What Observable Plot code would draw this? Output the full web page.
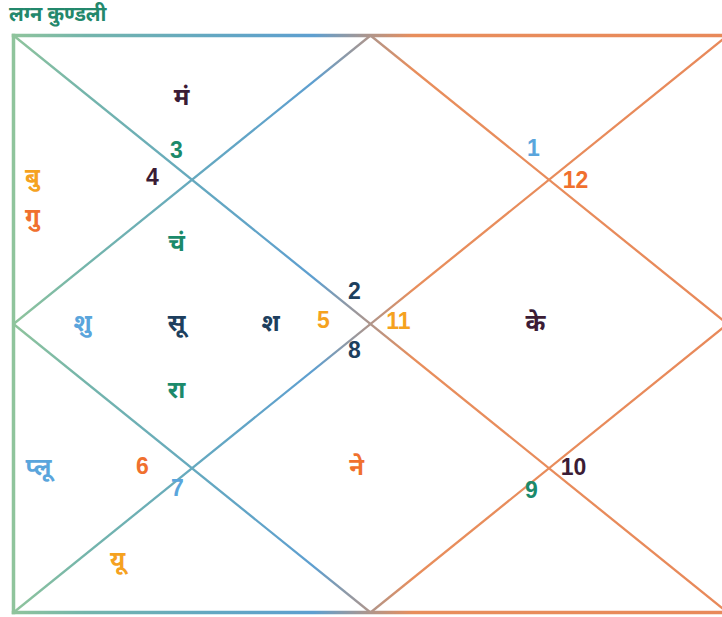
<!DOCTYPE html>
<html><head><meta charset="utf-8">
<script src="https://cdn.jsdelivr.net/npm/d3@7"></script>
<script src="https://cdn.jsdelivr.net/npm/@observablehq/plot@0.6"></script>
<style>
html,body{margin:0;padding:0;background:#fff;overflow:hidden;}
#title{font-family:"Noto Sans","DejaVu Sans",sans-serif;font-weight:bold;font-size:20px;color:#23886c;height:28px;line-height:28px;padding-left:9px;}
#chart svg{overflow:hidden;}
</style></head><body>
<div id="title">लग्न कुण्डली</div>
<div id="chart"></div>
<script>
// ---- data ----
const houses = [1,2,3,4,5,6,7,8,9,10,11,12];
const houseSigns = [2,3,4,5,6,7,8,9,10,11,12,1];
const planets = ["सू","चं","मं","बु","गु","शु","श","रा","के","यू","ने","प्लू"];
const planetHouses = [4,4,2,3,3,4,4,4,10,6,7,5];

// ---- styles / layout ----
const palette = ["#5aa5dc","#1d3f5e","#1b8a6b","#3b1c35","#f5a21f","#f0702e"];
const W = 714, H = 577;
const signPos = {1:[341,256],2:[163,115],3:[139,142],4:[310,285],5:[129,431],6:[164,453],
  7:[341,315],8:[518,455],9:[560,432],10:[385,286],11:[562,145],12:[520,113]};
const slots = {
  1:[[179,140],[179,60],[179,210]],
  2:[[168,62],[168,30],[240,62]],
  3:[[19,142],[19,182],[19,222]],
  4:[[163,288],[163,208],[69,288],[257,288],[163,355]],
  5:[[25,432],[25,472]],
  6:[[104,525],[180,525]],
  7:[[343,432]],
  8:[[522,525]],
  9:[[660,432]],
  10:[[522,288]],
  11:[[660,142]],
  12:[[522,62]]
};

const signData = houses.map((h,i)=>({house:h, sign:houseSigns[i]}));
const used = {};
const planetData = planets.map((p,i)=>{
  const h = planetHouses[i];
  used[h] = (used[h]||0);
  const pos = slots[h][used[h]++];
  return {name:p, idx:i, x:pos[0], y:pos[1]};
});

const border = [[0,0,W,0],[W,0,W,H],[W,H,0,H],[0,H,0,0]];
const inner = [[0,0,W,H],[W,0,0,H],[W/2,0,0,H/2],[0,H/2,W/2,H],[W/2,H,W,H/2],[W,H/2,W/2,0]];
const seg = a => a.map(d=>({x1:d[0],y1:d[1],x2:d[2],y2:d[3]}));

const chart = Plot.plot({
  width: 722, height: 589, margin: 0,
  style:{background:"white", overflow:"hidden"},
  x:{domain:[0,W], range:[13,13+W], axis:null},
  y:{domain:[0,H], range:[7,7+H], axis:null},
  marks:[
    Plot.link(seg(inner), {x1:"x1",y1:"y1",x2:"x2",y2:"y2", stroke:"url(#kgrad)", strokeWidth:2.3}),
    Plot.link(seg(border), {x1:"x1",y1:"y1",x2:"x2",y2:"y2", stroke:"url(#kgrad)", strokeWidth:3.5, strokeLinecap:"square"}),
    Plot.text(signData, {x:d=>signPos[d.house][0], y:d=>signPos[d.house][1], text:d=>String(d.sign),
      fill:d=>palette[(d.sign-1)%6], fontSize:23, fontWeight:"bold", fontFamily:"Liberation Sans, Arial, sans-serif"}),
    Plot.text(planetData, {x:"x", y:"y", text:"name", fill:d=>palette[(d.idx+1)%6],
      fontSize:24, fontWeight:"bold", fontFamily:"Noto Sans, DejaVu Sans, sans-serif"})
  ]
});
const svg = d3.select(chart);
const g = svg.insert("defs",":first-child").append("linearGradient")
  .attr("id","kgrad").attr("gradientUnits","userSpaceOnUse")
  .attr("x1",13).attr("y1",0).attr("x2",727).attr("y2",0);
[[0,"#8fc49c"],[0.1,"#74b5ab"],[0.28,"#63a7c2"],[0.42,"#5e9fd0"],[0.5,"#b0958a"],[0.56,"#e88e5c"],[1,"#e8895a"]]
  .forEach(([o,c])=>g.append("stop").attr("offset",o).attr("stop-color",c));
document.getElementById("chart").appendChild(chart);
</script>
</body></html>
